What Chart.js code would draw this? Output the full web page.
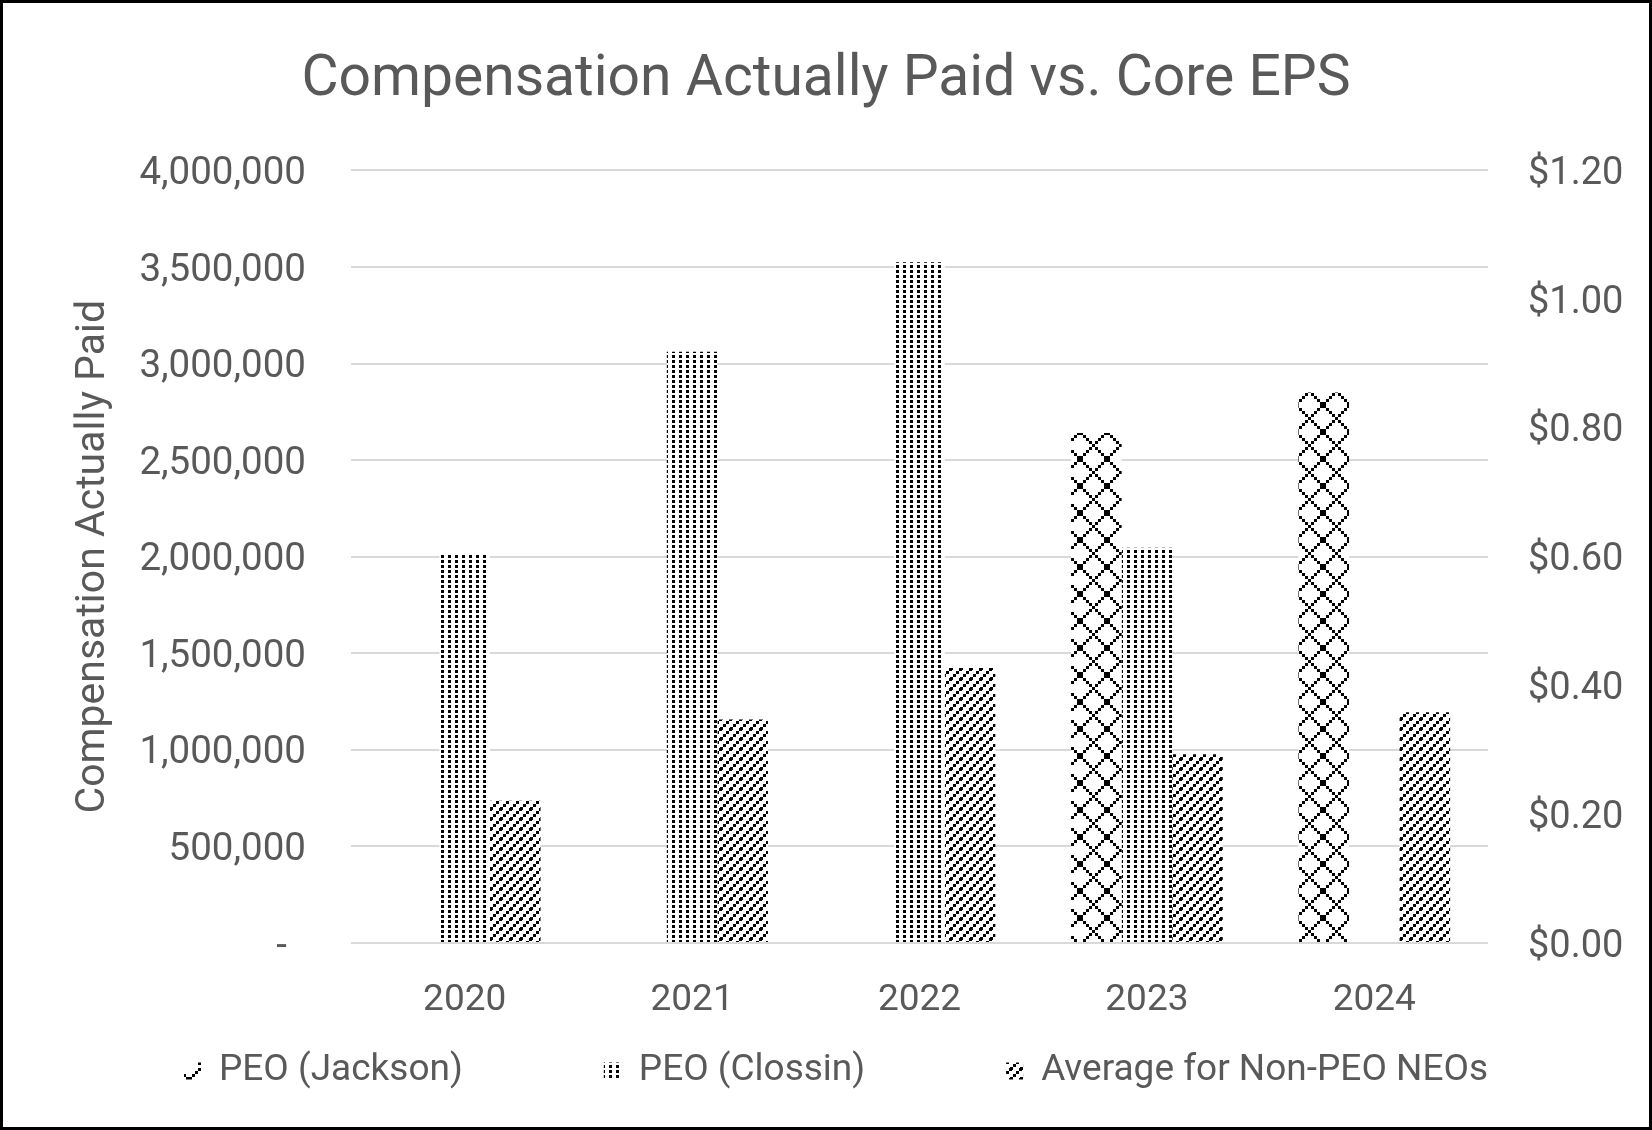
<!DOCTYPE html>
<html>
<head>
<meta charset="utf-8">
<script src="https://cdn.jsdelivr.net/npm/chart.js@4.4.1/dist/chart.umd.min.js"></script>
<style>
  html, body { margin: 0; padding: 0; background: #fff; }
  #chart { display: block; }
</style>
</head>
<body>
<canvas id="chart" width="1652" height="1130"></canvas>
<script>
// Values
const years = ['2020', '2021', '2022', '2023', '2024'];
const peoJackson = [null, null, null, 2640000, 2850000];
const peoClossin = [2014000, 3061000, 3525000, 2046000, null];
const nonPeoAverage = [737000, 1157000, 1424000, 977000, 1195000];
const seriesNames = ['PEO (Jackson)', 'PEO (Clossin)', 'Average for Non-PEO NEOs'];
const compTicks = [0, 500000, 1000000, 1500000, 2000000, 2500000, 3000000, 3500000, 4000000];
const epsTicks = [0, 0.2, 0.4, 0.6, 0.8, 1.0, 1.2];

const textColor = '#595959';
const fontFamily = 'Roboto, "Noto Sans", sans-serif';

const canvas = document.getElementById('chart');
const ctx = canvas.getContext('2d');

// Build a black-on-white repeating fill like Excel's pattern fills
function makePattern(w, h, draw) {
    const tile = document.createElement('canvas');
    tile.width = w;
    tile.height = h;
    const g = tile.getContext('2d');
    g.fillStyle = '#fff';
    g.fillRect(0, 0, w, h);
    g.fillStyle = '#000';
    draw(g, w, h);
    return ctx.createPattern(tile, 'repeat');
}

// draw a square and its wrapped copies so the tile repeats cleanly
function wrapSquare(g, w, h, x, y, s) {
    for (const dx of [-w, 0, w]) {
        for (const dy of [-h, 0, h]) {
            g.fillRect(x + dx, y + dy, s, s);
        }
    }
}

// large outlined diamonds
const diamondFill = makePattern(27, 27, (g, w, h) => {
    for (let k = 0; k < 9; k++) {
        wrapSquare(g, w, h, 3 * k, 3 * k, 3);
        wrapSquare(g, w, h, 3 * k, 24 - 3 * k, 3);
    }
});

// dotted grid
const dotFill = makePattern(7, 5, g => {
    g.fillRect(0, 0, 3, 3);
});

// wide upward diagonal
const diagFill = makePattern(10, 10, (g, w, h) => {
    for (let k = 0; k < 4; k++) {
        wrapSquare(g, w, h, 3 * k, 7 - 3 * k, 3);
    }
});

// white page with a black frame
const framePlugin = {
    id: 'frame',
    beforeDraw(chart) {
        const c = chart.ctx;
        c.save();
        c.fillStyle = '#fff';
        c.fillRect(0, 0, chart.width, chart.height);
        c.restore();
    },
    afterDraw(chart) {
        const c = chart.ctx;
        c.save();
        c.strokeStyle = '#000';
        c.lineWidth = 3;
        c.strokeRect(1.5, 1.5, chart.width - 3, chart.height - 3);
        c.restore();
    }
};

// legend spread across the bottom the way Excel lays it out
const spreadLegend = {
    id: 'spreadLegend',
    afterDraw(chart, args, opts) {
        const c = chart.ctx;
        const sets = chart.data.datasets;
        c.save();
        c.font = opts.size + 'px ' + fontFamily;
        c.textBaseline = 'middle';
        c.textAlign = 'left';
        const widths = sets.map(ds => opts.box + opts.gap + c.measureText(ds.label).width);
        const total = widths.reduce((a, b) => a + b, 0);
        const spare = (opts.right - opts.left - total) / (sets.length - 1);
        let x = opts.left;
        sets.forEach((ds, i) => {
            c.fillStyle = ds.backgroundColor;
            c.fillRect(x, opts.y - opts.box / 2, opts.box, opts.box);
            c.fillStyle = textColor;
            c.fillText(ds.label, x + opts.box + opts.gap, opts.y);
            x += widths[i] + spare;
        });
        c.restore();
    }
};

Chart.defaults.font.family = fontFamily;
Chart.defaults.color = textColor;

new Chart(ctx, {
    type: 'bar',
    data: {
        labels: years,
        datasets: [
            { label: seriesNames[0], data: peoJackson, backgroundColor: diamondFill },
            { label: seriesNames[1], data: peoClossin, backgroundColor: dotFill },
            { label: seriesNames[2], data: nonPeoAverage, backgroundColor: diagFill }
        ]
    },
    options: {
        responsive: false,
        animation: false,
        devicePixelRatio: 1,
        layout: { padding: 0 },
        datasets: {
            bar: { barPercentage: 1, categoryPercentage: 0.667, borderWidth: 0, yAxisID: 'y' }
        },
        plugins: {
            legend: { display: false },
            tooltip: { enabled: false },
            title: {
                display: true,
                text: 'Compensation Actually Paid vs. Core EPS',
                color: textColor,
                font: { size: 57, weight: 'normal' },
                padding: { top: 47, bottom: 55 }
            },
            spreadLegend: { left: 184, right: 1488, y: 1071, box: 17, gap: 18, size: 37 }
        },
        scales: {
            x: {
                grid: { display: false },
                border: { display: false },
                ticks: { font: { size: 37 }, padding: 28 },
                afterFit: s => { s.height = 187; }
            },
            y: {
                position: 'left',
                min: 0,
                max: 4000000,
                afterBuildTicks: s => { s.ticks = compTicks.map(v => ({ value: v })); },
                grid: { color: '#d9d9d9', lineWidth: 2, drawTicks: false },
                border: { display: false },
                ticks: {
                    font: { size: 38.5 },
                    padding: 45,
                    labelOffset: 4,
                    callback: v => v === 0 ? '-  ' : v.toLocaleString('en-US')
                },
                title: {
                    display: true,
                    text: 'Compensation Actually Paid',
                    font: { size: 41 },
                    padding: { top: 69, bottom: 0 }
                },
                afterFit: s => { s.width = 351; }
            },
            y1: {
                position: 'right',
                min: 0,
                max: 1.2,
                afterBuildTicks: s => { s.ticks = epsTicks.map(v => ({ value: v })); },
                grid: { display: false, drawTicks: false },
                border: { display: false },
                ticks: {
                    font: { size: 38 },
                    padding: 40,
                    labelOffset: 4,
                    callback: v => '$' + v.toFixed(2)
                },
                afterFit: s => { s.width = 164; }
            }
        }
    },
    plugins: [framePlugin, spreadLegend]
});
</script>
</body>
</html>
